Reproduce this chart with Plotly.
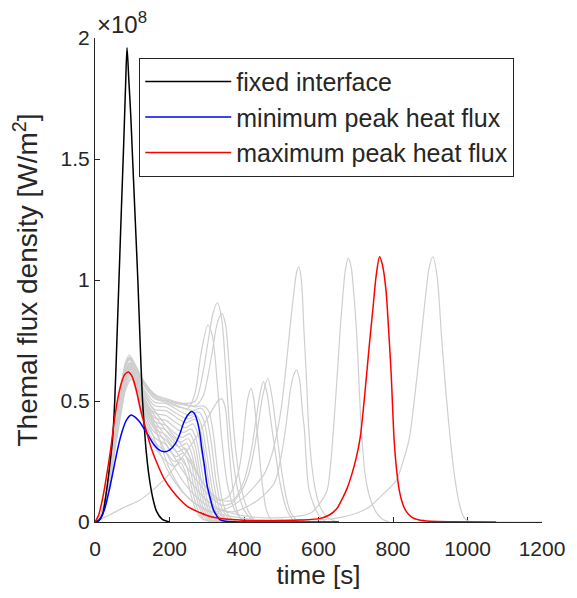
import plotly.graph_objects as go

# ---------------- data (flux in units of 1e8 W/m^2, time in s) ----------------
series_names = ["fixed interface", "minimum peak heat flux", "maximum peak heat flux"]
series_colors = ["#000000", "#0000ff", "#ff0000"]

t_fixed = [0, 10, 20, 31, 40, 47, 53, 59, 65, 71, 77, 82, 86, 91, 96, 101, 108, 115, 121, 127, 132, 137, 145, 155, 165, 180, 200]
q_fixed = [0, 0.005, 0.03, 0.13, 0.24, 0.34, 0.5, 0.76, 1.03, 1.3, 1.56, 1.8, 1.96, 1.82, 1.68, 1.5, 1.25, 1.0, 0.75, 0.52, 0.4, 0.3, 0.19, 0.1, 0.045, 0.012, 0]

t_min = [0, 12, 25, 38, 50, 62, 72, 84, 97, 106, 119, 132, 146, 158, 170, 186, 200, 216, 228, 238, 248, 258, 266, 274, 281, 287, 294, 300, 309, 318, 327, 335, 350, 400, 500, 655]
q_min = [0, 0.01, 0.05, 0.13, 0.22, 0.31, 0.37, 0.42, 0.442, 0.435, 0.415, 0.385, 0.35, 0.32, 0.3, 0.29, 0.297, 0.325, 0.365, 0.41, 0.44, 0.456, 0.45, 0.42, 0.37, 0.3, 0.23, 0.16, 0.1, 0.05, 0.025, 0.01, 0.003, 0, 0, 0]

t_max = [0, 10, 22, 32, 42, 52, 60, 70, 80, 90, 100, 110, 123, 137, 150, 163, 185, 207, 230, 252, 280, 305, 350, 400, 450, 500, 550, 605, 630, 649, 665, 677, 690, 702, 712, 720, 728, 737, 746, 755, 764, 772, 781, 788, 795, 803, 810, 817, 825, 835, 850, 870, 900, 960, 1077]
q_max = [0, 0.03, 0.11, 0.2, 0.3, 0.42, 0.5, 0.57, 0.61, 0.62, 0.6, 0.55, 0.46, 0.38, 0.31, 0.256, 0.18, 0.13, 0.09, 0.06, 0.04, 0.025, 0.012, 0.007, 0.005, 0.006, 0.008, 0.015, 0.03, 0.055, 0.1, 0.14, 0.2, 0.27, 0.35, 0.46, 0.59, 0.74, 0.88, 1.02, 1.096, 1.06, 0.96, 0.8, 0.615, 0.34, 0.21, 0.13, 0.08, 0.045, 0.02, 0.008, 0.003, 0.001, 0]

# grey family: two-hump curves of the cluster
cluster_t = [
    [0, 12, 25, 40, 55, 70, 82, 92, 105, 128, 163, 190, 234, 269, 290, 305, 318, 330, 345, 365, 385],
    [0, 12, 25, 40, 55, 70, 82, 93, 106, 128, 160, 190, 230, 262, 285, 298, 312, 325, 340, 360, 380],
    [0, 12, 25, 40, 55, 70, 82, 94, 107, 128, 160, 190, 225, 255, 278, 292, 306, 320, 335, 355, 375],
    [0, 12, 25, 40, 55, 70, 82, 94, 107, 128, 160, 190, 222, 250, 272, 286, 300, 314, 330, 350, 370],
    [0, 12, 25, 40, 55, 70, 82, 95, 108, 128, 160, 190, 220, 246, 268, 282, 296, 310, 325, 345, 365],
    [0, 12, 25, 40, 55, 70, 82, 95, 108, 128, 160, 190, 218, 242, 263, 277, 291, 305, 320, 340, 360],
    [0, 12, 25, 40, 55, 70, 82, 95, 108, 128, 160, 190, 215, 238, 258, 272, 286, 300, 315, 335, 355],
    [0, 12, 25, 40, 55, 70, 82, 96, 109, 128, 160, 190, 212, 234, 254, 268, 282, 296, 311, 330, 350],
    [0, 12, 25, 40, 55, 70, 82, 96, 109, 128, 160, 190, 210, 230, 250, 264, 278, 292, 307, 325, 345],
    [0, 12, 25, 40, 55, 70, 82, 96, 110, 130, 160, 190, 208, 226, 246, 260, 274, 288, 303, 320, 340],
    [0, 12, 25, 40, 55, 70, 82, 97, 110, 130, 160, 190, 206, 222, 242, 256, 270, 284, 299, 316, 335],
    [0, 12, 25, 40, 55, 70, 82, 97, 110, 130, 160, 190, 204, 218, 238, 252, 266, 280, 295, 312, 330],
    [0, 12, 25, 40, 55, 70, 82, 97, 110, 130, 160, 190, 202, 214, 234, 248, 262, 276, 291, 308, 325],
    [0, 12, 25, 40, 55, 70, 82, 98, 111, 130, 160, 185, 200, 212, 230, 244, 258, 272, 287, 304, 320],
]
cluster_q = [
    [0, 0.02, 0.08, 0.22, 0.4, 0.57, 0.66, 0.69, 0.66, 0.59, 0.525, 0.51, 0.49, 0.476, 0.48, 0.46, 0.36, 0.2, 0.07, 0.015, 0],
    [0, 0.02, 0.075, 0.21, 0.39, 0.56, 0.65, 0.68, 0.65, 0.575, 0.51, 0.5, 0.475, 0.46, 0.47, 0.44, 0.33, 0.17, 0.06, 0.012, 0],
    [0, 0.018, 0.072, 0.2, 0.38, 0.55, 0.645, 0.675, 0.64, 0.56, 0.495, 0.49, 0.46, 0.44, 0.455, 0.42, 0.3, 0.15, 0.05, 0.01, 0],
    [0, 0.018, 0.07, 0.2, 0.37, 0.54, 0.64, 0.67, 0.63, 0.55, 0.48, 0.475, 0.445, 0.425, 0.44, 0.4, 0.28, 0.14, 0.045, 0.01, 0],
    [0, 0.017, 0.068, 0.19, 0.36, 0.53, 0.63, 0.66, 0.62, 0.54, 0.465, 0.46, 0.43, 0.41, 0.425, 0.38, 0.26, 0.12, 0.04, 0.008, 0],
    [0, 0.017, 0.066, 0.19, 0.355, 0.52, 0.62, 0.655, 0.61, 0.525, 0.45, 0.44, 0.41, 0.39, 0.405, 0.36, 0.24, 0.11, 0.035, 0.007, 0],
    [0, 0.016, 0.065, 0.185, 0.35, 0.51, 0.61, 0.65, 0.6, 0.51, 0.43, 0.42, 0.39, 0.37, 0.385, 0.34, 0.22, 0.1, 0.03, 0.006, 0],
    [0, 0.016, 0.064, 0.18, 0.345, 0.5, 0.6, 0.645, 0.59, 0.5, 0.415, 0.4, 0.37, 0.35, 0.365, 0.32, 0.2, 0.09, 0.028, 0.005, 0],
    [0, 0.016, 0.063, 0.18, 0.34, 0.495, 0.595, 0.64, 0.585, 0.49, 0.4, 0.38, 0.35, 0.33, 0.345, 0.3, 0.19, 0.08, 0.025, 0.005, 0],
    [0, 0.015, 0.062, 0.175, 0.335, 0.485, 0.585, 0.63, 0.575, 0.47, 0.385, 0.36, 0.33, 0.31, 0.325, 0.28, 0.17, 0.07, 0.022, 0.004, 0],
    [0, 0.015, 0.06, 0.17, 0.33, 0.48, 0.575, 0.62, 0.565, 0.455, 0.37, 0.34, 0.31, 0.29, 0.305, 0.26, 0.155, 0.065, 0.02, 0.004, 0],
    [0, 0.015, 0.06, 0.17, 0.325, 0.47, 0.565, 0.61, 0.555, 0.44, 0.35, 0.32, 0.29, 0.27, 0.285, 0.24, 0.14, 0.06, 0.018, 0.003, 0],
    [0, 0.014, 0.058, 0.165, 0.32, 0.46, 0.555, 0.6, 0.545, 0.425, 0.33, 0.29, 0.265, 0.25, 0.265, 0.22, 0.125, 0.05, 0.015, 0.003, 0],
    [0, 0.014, 0.056, 0.16, 0.31, 0.45, 0.545, 0.59, 0.535, 0.41, 0.31, 0.26, 0.24, 0.23, 0.245, 0.2, 0.11, 0.045, 0.013, 0.003, 0],
]

# grey family: curves with a high second peak (~0.8-0.9)
high_t = [
    [0, 12, 25, 40, 55, 70, 82, 92, 105, 128, 163, 190, 234, 269, 290, 305, 318, 329, 340, 350, 360, 372, 385, 400, 420, 440],
    [0, 12, 25, 40, 55, 70, 82, 93, 106, 128, 160, 190, 225, 250, 268, 285, 303, 315, 328, 340, 355, 375, 400],
    [0, 12, 25, 40, 55, 70, 82, 92, 105, 128, 163, 190, 234, 269, 290, 310, 328, 340, 350, 362, 375, 390, 410, 430],
]
high_q = [
    [0, 0.02, 0.078, 0.215, 0.39, 0.56, 0.65, 0.68, 0.65, 0.585, 0.52, 0.505, 0.49, 0.5, 0.62, 0.76, 0.87, 0.906, 0.84, 0.65, 0.42, 0.24, 0.12, 0.05, 0.012, 0],
    [0, 0.02, 0.075, 0.21, 0.385, 0.555, 0.645, 0.675, 0.645, 0.575, 0.51, 0.495, 0.475, 0.47, 0.53, 0.7, 0.814, 0.77, 0.58, 0.35, 0.16, 0.05, 0],
    [0, 0.019, 0.076, 0.21, 0.385, 0.55, 0.645, 0.675, 0.645, 0.58, 0.515, 0.5, 0.485, 0.48, 0.52, 0.66, 0.82, 0.862, 0.82, 0.6, 0.34, 0.16, 0.05, 0],
]

# grey family: curves with a later, medium second peak (~0.5-0.6)
mid_t = [
    [0, 40, 80, 120, 165, 200, 240, 280, 310, 330, 340, 350, 358, 367, 375, 385, 400],
    [0, 12, 25, 40, 55, 70, 82, 95, 108, 128, 150, 200, 250, 290, 330, 358, 384, 395, 402, 410, 419, 426, 433, 440, 446, 453, 460, 470, 480],
    [0, 12, 25, 40, 55, 70, 82, 96, 110, 130, 150, 200, 250, 300, 340, 370, 400, 420, 432, 443, 452, 462, 472, 483, 497, 515, 535],
    [0, 12, 25, 40, 55, 70, 82, 96, 110, 130, 150, 200, 250, 300, 340, 366, 390, 411, 425, 437, 450, 464, 475, 486, 495, 503, 515, 525, 545],
    [0, 12, 25, 40, 55, 70, 82, 96, 110, 130, 150, 200, 250, 300, 340, 375, 437, 481, 497, 512, 525, 534, 541, 549, 556, 562, 575, 600, 620],
]
mid_q = [
    [0, 0.03, 0.062, 0.09, 0.145, 0.2, 0.28, 0.37, 0.45, 0.5, 0.51, 0.47, 0.33, 0.18, 0.085, 0.03, 0],
    [0, 0.017, 0.066, 0.19, 0.355, 0.52, 0.62, 0.655, 0.61, 0.54, 0.48, 0.38, 0.28, 0.16, 0.09, 0.105, 0.2, 0.3, 0.41, 0.51, 0.552, 0.51, 0.41, 0.3, 0.2, 0.11, 0.05, 0.015, 0],
    [0, 0.016, 0.064, 0.18, 0.345, 0.5, 0.6, 0.64, 0.59, 0.51, 0.46, 0.36, 0.26, 0.14, 0.09, 0.09, 0.17, 0.3, 0.42, 0.53, 0.58, 0.53, 0.42, 0.3, 0.16, 0.05, 0],
    [0, 0.015, 0.062, 0.175, 0.335, 0.485, 0.585, 0.63, 0.575, 0.49, 0.44, 0.33, 0.22, 0.12, 0.07, 0.077, 0.12, 0.19, 0.28, 0.39, 0.52, 0.594, 0.52, 0.39, 0.28, 0.19, 0.09, 0.04, 0],
    [0, 0.016, 0.064, 0.18, 0.34, 0.495, 0.595, 0.635, 0.585, 0.5, 0.43, 0.3, 0.18, 0.09, 0.05, 0.043, 0.09, 0.16, 0.25, 0.39, 0.55, 0.61, 0.628, 0.59, 0.47, 0.385, 0.13, 0.03, 0],
]

# grey family: curves with a late, tall peak (~1.05-1.1)
late_t = [
    [0, 12, 25, 40, 55, 70, 82, 95, 108, 128, 150, 200, 250, 313, 360, 402, 430, 455, 475, 490, 500, 510, 518, 526, 534, 541, 547, 554, 561, 568, 574, 583, 592, 605, 623, 650],
    [0, 12, 25, 40, 55, 70, 82, 95, 108, 128, 150, 200, 250, 300, 400, 500, 578, 600, 623, 632, 640, 650, 658, 665, 672, 680, 688, 695, 702, 708, 715, 725, 737, 755, 773, 790],
    [0, 12, 25, 40, 55, 70, 82, 96, 110, 130, 150, 200, 250, 300, 400, 500, 600, 649, 700, 737, 770, 808, 825, 843, 857, 870, 885, 897, 907, 918, 931, 943, 954, 967, 980, 990, 1000, 1050, 1200],
]
late_q = [
    [0, 0.017, 0.066, 0.19, 0.355, 0.52, 0.62, 0.655, 0.61, 0.53, 0.45, 0.22, 0.1, 0.04, 0.06, 0.105, 0.15, 0.2, 0.28, 0.38, 0.47, 0.6, 0.72, 0.84, 0.95, 1.03, 1.055, 1.0, 0.79, 0.58, 0.38, 0.22, 0.13, 0.06, 0.02, 0],
    [0, 0.016, 0.065, 0.185, 0.35, 0.51, 0.61, 0.645, 0.6, 0.51, 0.42, 0.26, 0.14, 0.07, 0.025, 0.018, 0.036, 0.07, 0.13, 0.23, 0.38, 0.6, 0.79, 0.93, 1.04, 1.09, 1.05, 0.94, 0.79, 0.6, 0.38, 0.2, 0.105, 0.04, 0.01, 0],
    [0, 0.015, 0.062, 0.175, 0.33, 0.48, 0.58, 0.62, 0.57, 0.47, 0.38, 0.2, 0.1, 0.05, 0.015, 0.008, 0.01, 0.016, 0.035, 0.063, 0.11, 0.17, 0.24, 0.34, 0.5, 0.68, 0.9, 1.05, 1.096, 1.02, 0.75, 0.52, 0.34, 0.17, 0.063, 0.02, 0.005, 0, 0],
]

x_ticks = [0, 200, 400, 600, 800, 1000, 1200]
y_ticks = [0, 0.5, 1, 1.5, 2]
y_tick_text = ["0", "0.5", "1", "1.5", "2"]

# ---------------- figure ----------------
AX = "#262626"
FONT = "Liberation Sans, Arial, Helvetica, sans-serif"

fig = go.Figure()
grey_t = cluster_t + high_t + mid_t + late_t
grey_q = cluster_q + high_q + mid_q + late_q
for t, q in zip(grey_t, grey_q):
    fig.add_trace(go.Scatter(x=t, y=q, mode="lines", showlegend=False, hoverinfo="skip",
                             line=dict(color="#cfcfcf", width=1.2, shape="spline", smoothing=0.8)))

for name, color, t, q in zip(series_names, series_colors,
                             [t_fixed, t_min, t_max], [q_fixed, q_min, q_max]):
    fig.add_trace(go.Scatter(x=t, y=q, mode="lines", name=name,
                             line=dict(color=color, width=1.5, shape="spline", smoothing=0.8)))

fig.update_layout(
    width=577, height=598,
    margin=dict(l=95, r=29, t=38, b=76, pad=0),
    paper_bgcolor="white", plot_bgcolor="white",
    font=dict(family=FONT, size=21, color=AX),
    showlegend=True,
    legend=dict(x=0.099, y=0.959, xanchor="left", yanchor="top",
                bgcolor="white", bordercolor=AX, borderwidth=1,
                font=dict(size=25, color=AX), itemwidth=86,
                tracegroupgap=0),
)
fig.update_xaxes(range=[0, 1200], tickvals=x_ticks, ticks="inside", ticklen=5, tickcolor=AX,
                 showline=True, linecolor=AX, linewidth=1, showgrid=False, zeroline=False,
                 mirror=False, layer="below traces", ticklabelstandoff=8,
                 tickfont=dict(size=21, color=AX),
                 title=dict(text="time [s]", font=dict(size=26, color=AX), standoff=6))
fig.update_yaxes(range=[0, 2], tickvals=y_ticks, ticktext=y_tick_text, ticks="inside", ticklen=5,
                 tickcolor=AX, showline=True, linecolor=AX, linewidth=1, showgrid=False,
                 zeroline=False, mirror=False, layer="below traces",
                 tickfont=dict(size=21, color=AX),
                 title=dict(text="Themal flux density [W/m<sup>2</sup>]", font=dict(size=28, color=AX), standoff=14))
fig.add_annotation(text="×10<sup>8</sup>", xref="paper", yref="paper", x=0, y=1,
                   xanchor="left", yanchor="bottom", yshift=-2, showarrow=False,
                   font=dict(size=24, color=AX))

fig.write_html("out.html")
